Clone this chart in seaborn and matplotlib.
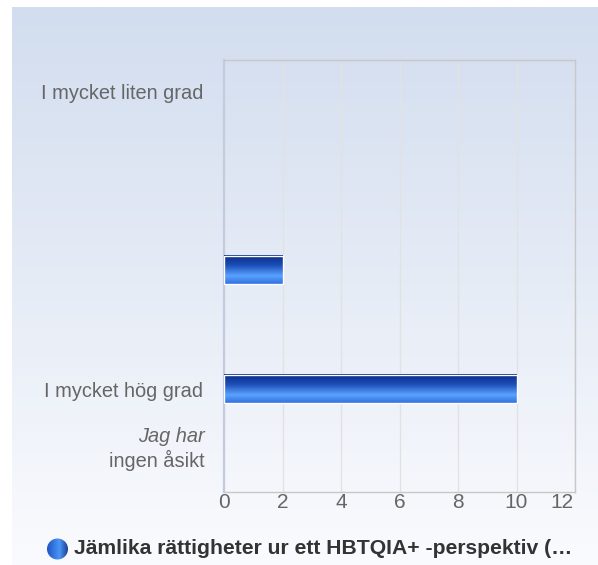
import numpy as np
import pandas as pd
import matplotlib
matplotlib.use("Agg")
import matplotlib.pyplot as plt
from matplotlib.colors import LinearSegmentedColormap
from matplotlib.patches import Circle
import matplotlib.transforms as mtransforms
import seaborn as sns

# Response scale and counts
categories = ["I mycket liten grad", "2", "3", "4", "5", "I mycket hög grad", "Jag har ingen åsikt"]
tick_labels = ["I mycket liten grad", "", "", "", "", "I mycket hög grad", ""]
counts = [0, 0, 0, 2, 0, 10, 0]
x_ticks = [0, 2, 4, 6, 8, 10, 12]
series_name = "Jämlika rättigheter ur ett HBTQIA+ -perspektiv (…"

sns.set_theme(style="white")
plt.rcParams["font.family"] = ["Liberation Sans", "DejaVu Sans"]

W, H = 598, 565
fig = plt.figure(figsize=(W / 100, H / 100), dpi=100)
fig.patch.set_facecolor("white")

# Soft blue backdrop panel
bg = fig.add_axes([12 / W, 0, 1 - 12 / W, 1 - 7 / H], zorder=0)
bg_cmap = LinearSegmentedColormap.from_list("bg", ["#d2ddef", "#e6ecf6", "#fafbfe"])
bg.imshow(np.linspace(0, 1, 256).reshape(-1, 1), aspect="auto", cmap=bg_cmap,
          extent=(0, 1, 0, 1), origin="upper")
bg.set_axis_off()

# Plot area
left, right, top, bottom = 224, 575, 60, 492
ax = fig.add_axes([left / W, 1 - bottom / H, (right - left) / W, (bottom - top) / H], zorder=1)
ax.set_facecolor("none")

df = pd.DataFrame({"answer": categories, "count": counts})
sns.barplot(data=df, x="count", y="answer", orient="h", width=0.47,
            color="#1f55c8", ax=ax, zorder=3)

# Vertical gradient fill on each bar
bar_cmap = LinearSegmentedColormap.from_list(
    "bar", [(0.0, "#0a2a85"), (0.35, "#1c4fb8"), (0.72, "#5aa2ff"), (1.0, "#2f70e0")])
grad = np.linspace(0, 1, 128).reshape(-1, 1)
for p in ax.patches:
    w = p.get_width()
    if w <= 0:
        p.set_visible(False)
        continue
    x0, y0, h = p.get_x(), p.get_y(), p.get_height()
    ax.imshow(grad, aspect="auto", cmap=bar_cmap, origin="upper",
              extent=(x0, x0 + w, y0 + h, y0), zorder=3)
    p.set_facecolor("none")
    p.set_edgecolor("white")
    p.set_linewidth(1.0)
    p.set_zorder(4)

ax.set_xlim(0, 12)
ax.set_ylim(6.72, -0.52)
ax.set_xticks(x_ticks)
ax.set_xticklabels([str(t) for t in x_ticks])
ax.set_yticks(range(len(categories)))
ax.set_yticklabels(tick_labels)
ax.set_xlabel("")
ax.set_ylabel("")
ax.tick_params(axis="both", length=0, colors="#666666")
ax.tick_params(axis="y", pad=15, labelsize=14.4)
ax.tick_params(axis="x", pad=0.5, labelsize=15)
# keep the last tick label inside the plot width
last = ax.get_xticklabels()[-1]
last.set_horizontalalignment("right")
last.set_transform(last.get_transform() + mtransforms.ScaledTranslation(-2 / 100, 0, fig.dpi_scale_trans))

ax.grid(axis="x", color="#e2e2e2", linewidth=1.0, zorder=1)
ax.grid(axis="y", visible=False)
ax.set_axisbelow(True)
for side in ["top", "right", "bottom"]:
    ax.spines[side].set_visible(True)
    ax.spines[side].set_color("#c8c8c8")
    ax.spines[side].set_linewidth(1.0)
ax.spines["left"].set_color("#c3ccde")
ax.spines["left"].set_linewidth(1.6)

# Two-style label for the last category
trans = mtransforms.blended_transform_factory(ax.transAxes, ax.transData)
off_x = -19 / (right - left)
ax.text(off_x, 6, "Jag har", transform=trans + mtransforms.ScaledTranslation(0, 3 / 100, fig.dpi_scale_trans),
        ha="right", va="bottom", fontsize=14.4, color="#666666", style="italic")
ax.text(off_x, 6, "ingen åsikt", transform=trans + mtransforms.ScaledTranslation(0, -1 / 100, fig.dpi_scale_trans),
        ha="right", va="top", fontsize=14.4, color="#666666")

# Legend entry
leg_ax = fig.add_axes([0, 0, 1, 1], zorder=2)
leg_ax.set_xlim(0, W)
leg_ax.set_ylim(H, 0)
leg_ax.set_axis_off()
circ = Circle((57.5, 549), 10.5, facecolor="none", edgecolor="none")
leg_ax.add_patch(circ)
dot_cmap = LinearSegmentedColormap.from_list(
    "dot", [(0.0, "#1f55c8"), (0.6, "#4b95f5"), (1.0, "#1b3e9a")])
dot = leg_ax.imshow(np.linspace(0, 1, 64).reshape(1, -1), aspect="auto", cmap=dot_cmap,
                    extent=(47, 68, 560, 538), origin="upper")
dot.set_clip_path(circ)
leg_ax.set_xlim(0, W)
leg_ax.set_ylim(H, 0)
leg_ax.text(74, 549, series_name, ha="left", va="center", fontsize=15.2,
            fontweight="bold", color="#333333")

fig.savefig("out.png", dpi=100)
